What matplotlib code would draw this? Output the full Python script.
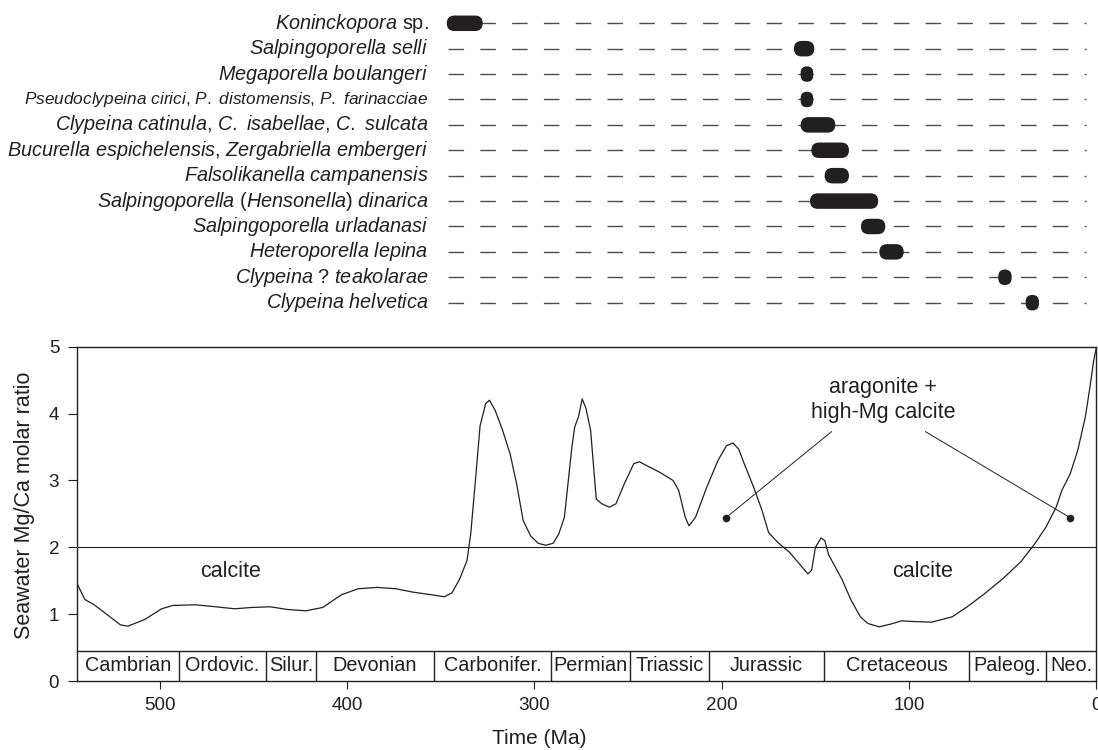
import matplotlib
matplotlib.use("Agg")
import matplotlib.pyplot as plt
from matplotlib.patches import FancyBboxPatch

plt.rcParams['font.family'] = ['Liberation Sans', 'DejaVu Sans']
plt.rcParams['mathtext.fontset'] = 'custom'
plt.rcParams['mathtext.rm'] = 'Liberation Sans'
plt.rcParams['mathtext.it'] = 'Liberation Sans:italic'
plt.rcParams['lines.scale_dashes'] = False

INK = '#231f20'


def it(s):
    # italic words, normal spaces between them
    return " ".join(r"$\mathit{%s}$" % w for w in s.split())


# Species ranges (Ma, older -> younger), top row first
species = [
    it("Koninckopora") + " sp.",
    it("Salpingoporella selli"),
    it("Megaporella boulangeri"),
    it("Pseudoclypeina cirici") + ", " + it("P. distomensis") + ", " + it("P. farinacciae"),
    it("Clypeina catinula") + ", " + it("C. isabellae") + ", " + it("C. sulcata"),
    it("Bucurella espichelensis") + ", " + it("Zergabriella embergeri"),
    it("Falsolikanella campanensis"),
    it("Salpingoporella") + " (" + it("Hensonella") + ") " + it("dinarica"),
    it("Salpingoporella urladanasi"),
    it("Heteroporella lepina"),
    it("Clypeina") + " ? " + it("teakolarae"),
    it("Clypeina helvetica"),
]
range_old = [346.8, 161.5, 157.9, 157.9, 157.9, 152.2, 145.1, 152.9, 125.7, 115.9, 52.4, 37.8]
range_young = [327.6, 150.6, 151.2, 151.2, 139.4, 132.1, 132.1, 116.5, 112.7, 102.9, 45.3, 30.7]
guide_start, guide_end = 346.1, 5.6

# Seawater Mg/Ca curve
age = [544, 540, 535, 527, 521, 517, 508, 499, 493, 481, 470, 460, 451, 441, 432,
       422, 413, 403, 394, 384, 374, 365, 355, 348, 344, 340, 336, 334, 331.5, 329,
       326, 324, 321, 317, 313, 309.5, 306, 302, 298, 294, 290, 287, 284, 280,
       278.5, 276.5, 274.5, 272.5, 270, 267, 264, 260, 256.5, 252, 247, 244, 240,
       233, 226, 223, 219.5, 217.5, 214, 208, 202, 197.5, 194, 191, 188, 183,
       178.5, 175, 170, 164, 158.5, 154, 152, 150, 147, 145, 143, 136, 131, 126,
       122, 116, 110, 104, 98, 88, 77, 69, 60, 50, 40.5, 33, 27, 21.5, 18.5, 14,
       10, 6, 3.5, 1.5, 0]
mgca = [1.45, 1.22, 1.14, 0.97, 0.84, 0.82, 0.92, 1.08, 1.13, 1.14, 1.11, 1.08, 1.10,
        1.11, 1.07, 1.05, 1.10, 1.29, 1.38, 1.40, 1.38, 1.33, 1.29, 1.26, 1.32, 1.52,
        1.80, 2.20, 3.00, 3.82, 4.15, 4.20, 4.05, 3.75, 3.40, 2.95, 2.40, 2.17, 2.06,
        2.03, 2.06, 2.20, 2.45, 3.50, 3.80, 3.95, 4.22, 4.08, 3.75, 2.72, 2.65, 2.60,
        2.65, 2.95, 3.25, 3.28, 3.22, 3.12, 3.00, 2.85, 2.45, 2.32, 2.45, 2.90, 3.30,
        3.52, 3.56, 3.47, 3.25, 2.90, 2.55, 2.22, 2.07, 1.93, 1.75, 1.60, 1.66, 2.00,
        2.14, 2.10, 1.89, 1.53, 1.21, 0.96, 0.86, 0.81, 0.85, 0.90, 0.89, 0.88, 0.96,
        1.11, 1.30, 1.53, 1.78, 2.05, 2.30, 2.60, 2.85, 3.10, 3.45, 3.94, 4.39, 4.79,
        5.00]

periods = ["Cambrian", "Ordovic.", "Silur.", "Devonian", "Carbonifer.", "Permian",
           "Triassic", "Jurassic", "Cretaceous", "Paleog.", "Neo."]
period_bounds = [544, 489.6, 443.4, 416.5, 353.8, 291.0, 249.0, 206.8, 145.4, 67.9, 27.0, 0]

x_ticks = [500, 400, 300, 200, 100, 0]
y_ticks = [0, 1, 2, 3, 4, 5]
threshold = 2
band_top = 0.45

# pointer dots and where their leader lines end
dot_age = [197.9, 13.9]
dot_val = [2.44, 2.44]
leader_age = [141.4, 91.3]
leader_val = [3.73, 3.73]

fig = plt.figure(figsize=(10.98, 7.5), dpi=100)
ax_pos = [0.0704, 0.092, 0.9282, 0.4457]
top_pos = [0.0704, 0.5795, 0.9282, 0.4064]

# ---------------- top panel: species ranges ----------------
ax_top = fig.add_axes(top_pos)
ax_top.set_xlim(544, 0)
ax_top.set_ylim(len(species) - 0.5, -0.5)
ax_top.axis('off')

px_per_ma = top_pos[2] * 1098 / 544
px_per_row = top_pos[3] * 750 / len(species)
bar_h_px = 15.5

for i, name in enumerate(species):
    ax_top.plot([guide_start, guide_end], [i, i], color='#4d4d4d', lw=1.0,
                dashes=(11.2, 11.7), solid_capstyle='butt', zorder=1)
    size = 12.4 if i == 3 else 14.3
    ax_top.annotate(name, xy=(guide_start, i), xytext=(-14.2, 0),
                    textcoords='offset points', ha='right', va='center',
                    fontsize=size, color=INK)
    w_px = (range_old[i] - range_young[i]) * px_per_ma
    r_px = min(bar_h_px, w_px) / 2
    h_rows = bar_h_px / px_per_row
    box = FancyBboxPatch((range_young[i], i - h_rows / 2),
                         range_old[i] - range_young[i], h_rows,
                         boxstyle=f"round,pad=0,rounding_size={r_px / px_per_ma}",
                         mutation_aspect=px_per_ma / px_per_row,
                         fc=INK, ec='none', zorder=3)
    ax_top.add_patch(box)

# ---------------- bottom panel: Mg/Ca curve ----------------
ax = fig.add_axes(ax_pos)
ax.set_xlim(544, 0)
ax.set_ylim(0, 5)
ax.plot(age, mgca, color=INK, lw=0.9, zorder=3)
ax.axhline(threshold, color=INK, lw=0.8)

# period band
ax.axhline(band_top, color=INK, lw=1.0)
ax.vlines(period_bounds[1:-1], 0, band_top, color=INK, lw=1.0)
for k, p in enumerate(periods):
    mid = (period_bounds[k] + period_bounds[k + 1]) / 2
    ax.text(mid, band_top / 2, p, ha='center', va='center', fontsize=14.3, color=INK)

ax.text(462.4, 1.64, "calcite", ha='center', va='center', fontsize=15.5, color=INK)
ax.text(92.9, 1.64, "calcite", ha='center', va='center', fontsize=15.5, color=INK)
ax.text(113.8, 4.2, "aragonite +\nhigh-Mg calcite", ha='center', va='center',
        fontsize=15.5, color=INK, linespacing=1.25)
for k in range(len(dot_age)):
    ax.plot([dot_age[k], leader_age[k]], [dot_val[k], leader_val[k]], color=INK, lw=0.7)
ax.plot(dot_age, dot_val, 'o', color=INK, ms=4.5)

ax.set_xticks(x_ticks)
ax.set_yticks(y_ticks)
ax.tick_params(axis='x', direction='out', length=6, width=0.8, pad=5.5,
               labelsize=13.6, colors=INK)
ax.tick_params(axis='y', direction='out', length=6.5, width=0.8, pad=6.5,
               labelsize=13.6, colors=INK)
for s in ax.spines.values():
    s.set_color(INK)
    s.set_linewidth(1.0)

ax.set_xlabel("Time (Ma)", fontsize=15, color=INK)
ax.set_ylabel("Seawater Mg/Ca molar ratio", fontsize=15.5, color=INK)
ax.xaxis.set_label_coords(0.453, -0.1436)
ax.yaxis.set_label_coords(-0.0415, 0.526)

fig.savefig("out.png", dpi=100)
